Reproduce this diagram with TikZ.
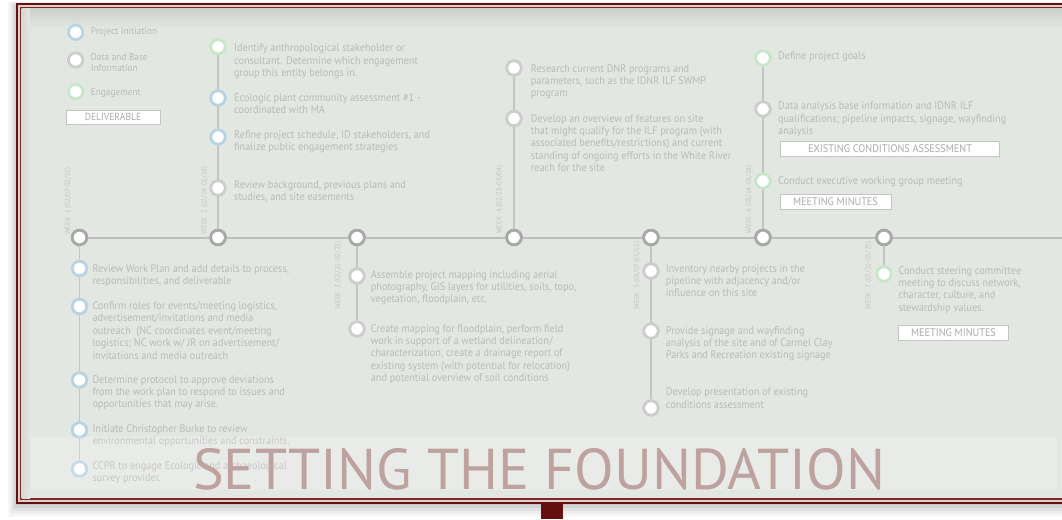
\documentclass[tikz,border=0pt]{standalone}
\usepackage{fontspec}
\usepackage{graphicx}
\setmainfont{PT Sans}[FakeStretch=0.93]
\newfontfamily\titlefont{PT Sans}
\definecolor{panel}{RGB}{227,231,226}
\definecolor{frameout}{RGB}{95,18,18}
\definecolor{framein}{RGB}{125,40,40}
\definecolor{framegap}{RGB}{225,205,205}
\definecolor{stemred}{RGB}{100,16,16}
\definecolor{mainring}{RGB}{168,168,168}
\definecolor{linec}{RGB}{190,190,190}
\definecolor{vlinec}{RGB}{196,196,196}
\definecolor{ringblue}{RGB}{183,212,226}
\definecolor{ringgray}{RGB}{205,205,205}
\definecolor{ringgreen}{RGB}{202,230,202}
\definecolor{txtc}{RGB}{186,186,186}
\definecolor{wkc}{RGB}{196,196,196}
\definecolor{tagborder}{RGB}{196,196,196}
\definecolor{tagtext}{RGB}{170,170,170}
\definecolor{titlec}{RGB}{190,162,160}
\newcommand\ml[1]{\begin{tabular}[t]{@{}l@{}}#1\end{tabular}}
\begin{document}
\begin{tikzpicture}[x=1pt,y=-1pt,
  mainnode/.style={circle, draw=mainring, fill=white, line width=2.8pt, minimum size=14.6pt, inner sep=0pt},
  subnode/.style={circle, fill=white, line width=2.7pt, minimum size=14.4pt, inner sep=0pt},
  bluen/.style={subnode, draw=ringblue},
  grayn/.style={subnode, draw=ringgray},
  greenn/.style={subnode, draw=ringgreen},
  txt/.style={anchor=base west, inner sep=0pt, text=txtc, font=\fontsize{11}{12.4}\selectfont},
  lgt/.style={txt, font=\fontsize{10}{11.2}\selectfont},
  wk/.style={rotate=90, anchor=base west, inner sep=0pt, text=wkc, font=\fontsize{7.4}{8}\selectfont},
  tag/.style={draw=tagborder, fill=white, line width=1pt, text=tagtext, anchor=north west, inner sep=0pt, font=\fontsize{11}{12}\selectfont},
  tl/.style={draw=linec, line width=2pt},
  vl/.style={draw=vlinec, line width=1.5pt}
]
\useasboundingbox (0,0) rectangle (1062,519);
% shadow
\foreach \o/\a in {9/0.03,7/0.04,5/0.05,3/0.06,1.5/0.07}{
  \fill[black, opacity=\a] (17-\o,4.5-\o*0.3) rectangle (1070,503+\o*1.6);
}
% frame
\fill[frameout] (16,3.5) rectangle (1070,503.5);
\fill[framegap] (18,5.5) rectangle (1070,501.5);
\fill[framein] (20,7.5) rectangle (1070,499.5);
\fill[panel] (21.5,9) rectangle (1070,498);
\shade[top color=black!10!panel, bottom color=panel] (21.5,9) rectangle (1070,28);
\shade[left color=black!6!panel, right color=panel] (21.5,9) rectangle (30,498);
\fill[stemred] (541,503.5) rectangle (563,519);

% timeline
\coordinate (tlend) at (1062,237.5);
\node[mainnode] (w1) at (79.5,237.5) {};
\node[mainnode] (w2) at (218,237.5) {};
\node[mainnode] (w3) at (357,237.5) {};
\node[mainnode] (w4) at (514,237.5) {};
\node[mainnode] (w5) at (651,237.5) {};
\node[mainnode] (w6) at (763,237.5) {};
\node[mainnode] (w7) at (884,237.5) {};

% sub nodes
\node[bluen] (a1) at (79.5,268.5) {};
\node[bluen] (a2) at (79.5,306.5) {};
\node[bluen] (a3) at (79.5,380) {};
\node[bluen] (a4) at (79.5,430) {};
\node[bluen] (a5) at (79.5,469) {};
\node[greenn] (b1) at (218,46.7) {};
\node[bluen] (b2) at (218,98) {};
\node[bluen] (b3) at (218,137) {};
\node[grayn] (b4) at (218,188) {};
\node[grayn] (c1) at (357,276) {};
\node[grayn] (c2) at (357,329) {};
\node[grayn] (d1) at (514,68) {};
\node[grayn] (d2) at (514,118.5) {};
\node[grayn] (e1) at (651,271) {};
\node[grayn] (e2) at (651,331) {};
\node[grayn] (e3) at (651,408) {};
\node[greenn] (f1) at (763,58) {};
\node[grayn] (f2) at (763,109) {};
\node[greenn] (f3) at (763,181) {};
\node[greenn] (g1) at (884,274) {};

% connectors (drawn, then nodes redrawn on top)
\path[tl] (w1) -- (tlend);
\path[vl] (w1) -- (a5);
\path[vl] (w2) -- (b1);
\path[vl] (w3) -- (c2);
\path[vl] (w4) -- (d1);
\path[vl] (w5) -- (e3);
\path[vl] (w6) -- (f1);
\path[vl] (w7) -- (g1);
\foreach \n in {w1,w2,w3,w4,w5,w6,w7}{\node[mainnode] at (\n) {};}
\foreach \n in {a1,a2,a3,a4,a5,b2,b3}{\node[bluen] at (\n) {};}
\foreach \n in {b4,c1,c2,d1,d2,e1,e2,e3,f2}{\node[grayn] at (\n) {};}
\foreach \n in {b1,f1,f3,g1}{\node[greenn] at (\n) {};}

% legend
\node[subnode, draw=ringblue] (lg1) at (75.7,32.3) {};
\node[subnode, draw=ringgray] (lg2) at (75.7,60) {};
\node[subnode, draw=ringgreen] (lg3) at (75.7,91.7) {};
\node[lgt] (lt1) at (90.7,35) {Project Initiation};
\node[lgt] (lt2) at (90.7,60.5) {\ml{Data and Base\\Information}};
\node[lgt] (lt3) at (90.7,95) {Engagement};
\node[tag, minimum width=94pt, minimum height=14.6pt, font=\fontsize{10.3}{11}\selectfont] (deliv) at (65.5,109.5) {DELIVERABLE};

% week labels
\node[wk] (wl1) at (70,235) {WEEK\ \ 1 (02/07-02/11)};
\node[wk] (wl2) at (206.5,234.5) {WEEK\ \ 2 (02/14-02/18)};
\node[wk] (wl3) at (340,309.5) {WEEK\ \ 3 (02/21-02/25)};
\node[wk] (wl4) at (501.5,234) {WEEK\ \ 4 (02/28-03/04)};
\node[wk] (wl5) at (639,309.5) {WEEK\ \ 5 (03/07-03/11)};
\node[wk] (wl6) at (751,233.5) {WEEK\ \ 6 (03/14-03/18)};
\node[wk] (wl7) at (870.5,309.5) {WEEK\ \ 7 (03/21-03/25)};

% week 1 texts
\node[txt] (ta1) at (92.3,272) {\ml{Review Work Plan and add details to process,\\responsibilities, and deliverable}};
\node[txt] (ta2) at (92.3,309.5) {\ml{Confirm roles for events/meeting logistics,\\advertisement/invitations and media\\outreach\ \ (NC coordinates event/meeting\\logistics; NC work w/ JR on advertisement/\\invitations and media outreach}};
\node[txt] (ta3) at (92.3,383) {\ml{Determine protocol to approve deviations\\from the work plan to respond to issues and\\opportunities that may arise.}};
\node[txt] (ta4) at (92.3,432.5) {\ml{Initiate Christopher Burke to review\\environmental opportunities and constraints.}};
\node[txt] (ta5) at (92.3,469.5) {\ml{CCPR to engage Ecologic and archaeological\\survey provider.}};

% week 2 texts
\node[txt] (tb1) at (234,52) {\ml{Identify anthropological stakeholder or\\consultant. Determine which engagement\\group this entity belongs in.}};
\node[txt] (tb2) at (234,101.5) {\ml{Ecologic plant community assessment \#1 -\\coordinated with MA}};
\node[txt] (tb3) at (234,138.5) {\ml{Refine project schedule, ID stakeholders, and\\finalize public engagement strategies}};
\node[txt] (tb4) at (234,188.5) {\ml{Review background, previous plans and\\studies, and site easements}};

% week 3 texts
\node[txt] (tc1) at (370.7,278) {\ml{Assemble project mapping including aerial\\photography, GIS layers for utilities, soils, topo,\\vegetation, floodplain, etc.}};
\node[txt] (tc2) at (370.7,332) {\ml{Create mapping for floodplain, perform field\\work in support of a wetland delineation/\\characterization, create a drainage report of\\existing system (with potential for relocation)\\and potential overview of soil conditions}};

% week 4 texts
\node[txt] (td1) at (530.7,72) {\ml{Research current DNR programs and\\parameters, such as the IDNR ILF SWMP\\program}};
\node[txt] (td2) at (530.7,122) {\ml{Develop an overview of features on site\\that might qualify for the ILF program (with\\associated benefits/restrictions) and current\\standing of ongoing efforts in the White River\\reach for the site}};

% week 5 texts
\node[txt] (te1) at (665.7,272) {\ml{Inventory nearby projects in the\\pipeline with adjacency and/or\\influence on this site}};
\node[txt] (te2) at (665.7,334) {\ml{Provide signage and wayfinding\\analysis of the site and of Carmel Clay\\Parks and Recreation existing signage}};
\node[txt] (te3) at (665.7,395.7) {\ml{Develop presentation of existing\\conditions assessment}};

% week 6 texts
\node[txt] (tf1) at (778,59.7) {Define project goals};
\node[txt] (tf2) at (778,109.7) {\ml{Data analysis base information and IDNR ILF\\qualifications; pipeline impacts, signage, wayfinding\\analysis}};
\node[tag, minimum width=219pt, minimum height=15pt] (eca) at (780,141) {EXISTING CONDITIONS ASSESSMENT};
\node[txt] (tf3) at (778,184) {Conduct executive working group meeting};
\node[tag, minimum width=111pt, minimum height=15pt] (mm1) at (779.5,194) {MEETING MINUTES};

% week 7 texts
\node[txt] (tg1) at (898.3,274) {\ml{Conduct steering committee\\meeting to discuss network,\\character, culture, and\\stewardship values.}};
\node[tag, minimum width=110pt, minimum height=15pt] (mm2) at (898,324.5) {MEETING MINUTES};

% title band
\fill[white, opacity=0.2] (30,437) rectangle (1057,490);
\node[anchor=base west, inner sep=0pt, text=titlec] (title) at (193,489.5) {\titlefont\resizebox{692pt}{41pt}{SETTING THE FOUNDATION}};
\end{tikzpicture}
\end{document}
